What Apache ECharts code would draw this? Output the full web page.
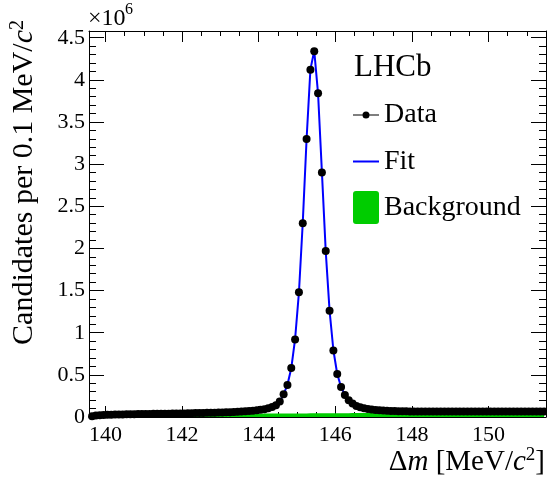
<!DOCTYPE html>
<html>
<head>
<meta charset="utf-8">
<script src="https://cdn.jsdelivr.net/npm/echarts@6/dist/echarts.min.js"></script>
<style>html,body{margin:0;padding:0;background:#fff}#c{width:547px;height:479px}</style>
</head>
<body>
<div id="c"></div>
<script>
// Bin centres of Δm [MeV/c^2] (0.1 MeV bins)
const binCenters = [139.65,139.75,139.85,139.95,
140.05,140.15,140.25,140.35,140.45,140.55,140.65,140.75,140.85,140.95,
141.05,141.15,141.25,141.35,141.45,141.55,141.65,141.75,141.85,141.95,
142.05,142.15,142.25,142.35,142.45,142.55,142.65,142.75,142.85,142.95,
143.05,143.15,143.25,143.35,143.45,143.55,143.65,143.75,143.85,143.95,
144.05,144.15,144.25,144.35,144.45,144.55,144.65,144.75,144.85,144.95,
145.05,145.15,145.25,145.35,145.45,145.55,145.65,145.75,145.85,145.95,
146.05,146.15,146.25,146.35,146.45,146.55,146.65,146.75,146.85,146.95,
147.05,147.15,147.25,147.35,147.45,147.55,147.65,147.75,147.85,147.95,
148.05,148.15,148.25,148.35,148.45,148.55,148.65,148.75,148.85,148.95,
149.05,149.15,149.25,149.35,149.45,149.55,149.65,149.75,149.85,149.95,
150.05,150.15,150.25,150.35,150.45,150.55,150.65,150.75,150.85,150.95,
151.05,151.15,151.25,151.35,151.45];

// Candidates per bin (x10^6)
const dataValues = [0.010,0.017,0.021,0.024,
0.026,0.028,0.029,0.030,0.031,0.032,0.033,0.034,0.035,0.036,
0.036,0.037,0.038,0.038,0.039,0.040,0.040,0.041,0.042,0.042,
0.043,0.044,0.045,0.046,0.047,0.048,0.049,0.050,0.051,0.052,
0.054,0.055,0.057,0.059,0.061,0.064,0.067,0.070,0.074,0.079,
0.085,0.093,0.103,0.118,0.140,0.185,0.270,0.380,0.580,0.920,
1.480,2.300,3.300,4.120,4.340,3.840,2.900,1.970,1.260,0.790,
0.510,0.355,0.262,0.200,0.160,0.132,0.115,0.104,0.095,0.089,
0.084,0.080,0.077,0.074,0.072,0.070,0.069,0.068,0.067,0.066,
0.066,0.065,0.065,0.064,0.065,0.064,0.064,0.065,0.064,0.064,
0.064,0.065,0.064,0.064,0.064,0.065,0.064,0.064,0.065,0.064,
0.064,0.065,0.064,0.065,0.064,0.065,0.065,0.064,0.065,0.065,
0.065,0.065,0.064,0.065,0.065];

// Total fit (x10^6)
const fitValues = [0.010,0.017,0.021,0.024,
0.026,0.028,0.029,0.030,0.031,0.032,0.033,0.034,0.035,0.036,
0.036,0.037,0.038,0.038,0.039,0.040,0.040,0.041,0.042,0.042,
0.043,0.044,0.045,0.046,0.047,0.048,0.049,0.050,0.051,0.052,
0.054,0.055,0.057,0.059,0.061,0.064,0.067,0.070,0.074,0.079,
0.085,0.093,0.104,0.119,0.141,0.186,0.268,0.382,0.578,0.925,
1.475,2.305,3.295,4.125,4.345,3.835,2.905,1.965,1.262,0.792,
0.510,0.356,0.262,0.201,0.160,0.132,0.115,0.104,0.095,0.089,
0.084,0.080,0.077,0.074,0.072,0.070,0.069,0.068,0.067,0.066,
0.066,0.065,0.065,0.065,0.065,0.065,0.065,0.065,0.064,0.064,
0.064,0.064,0.064,0.064,0.064,0.064,0.064,0.064,0.064,0.064,
0.064,0.064,0.064,0.064,0.064,0.065,0.065,0.065,0.065,0.065,
0.065,0.065,0.065,0.065,0.065];

// Background component (x10^6)
const bkgValues = [0.006,0.011,0.014,0.016,
0.018,0.019,0.020,0.021,0.022,0.023,0.024,0.025,0.026,0.027,
0.027,0.028,0.029,0.029,0.030,0.030,0.031,0.031,0.032,0.032,
0.033,0.033,0.034,0.034,0.035,0.035,0.035,0.036,0.036,0.037,
0.037,0.037,0.038,0.038,0.038,0.039,0.039,0.039,0.040,0.040,
0.040,0.041,0.041,0.041,0.041,0.042,0.042,0.042,0.042,0.043,
0.043,0.043,0.043,0.044,0.044,0.044,0.044,0.044,0.045,0.045,
0.045,0.045,0.045,0.045,0.046,0.046,0.046,0.046,0.046,0.046,
0.047,0.047,0.047,0.047,0.047,0.047,0.047,0.047,0.047,0.047,
0.047,0.047,0.047,0.047,0.047,0.047,0.047,0.047,0.047,0.047,
0.048,0.048,0.048,0.048,0.048,0.048,0.048,0.048,0.048,0.048,
0.048,0.048,0.048,0.048,0.048,0.048,0.048,0.048,0.048,0.048,
0.048,0.048,0.048,0.048,0.048];

// Axis ticks
const xMajorTicks = [140,142,144,146,148,150];
const xMinorTicks = [140.5,141,141.5,142.5,143,143.5,144.5,145,145.5,146.5,147,147.5,148.5,149,149.5,150.5,151];
const yMajorTicks = [0,0.5,1,1.5,2,2.5,3,3.5,4,4.5];
const yMinorTicks = [0.1,0.2,0.3,0.4,0.6,0.7,0.8,0.9,1.1,1.2,1.3,1.4,1.6,1.7,1.8,1.9,2.1,2.2,2.3,2.4,2.6,2.7,2.8,2.9,3.1,3.2,3.3,3.4,3.6,3.7,3.8,3.9,4.1,4.2,4.3,4.4];

const X_MIN = 139.57, X_MAX = 151.5, Y_MIN = 0, Y_MAX = 4.58;
const FONT = "'Liberation Serif','Times New Roman',serif";

const zip = (xs, ys) => xs.map((x, i) => [x, ys[i]]);

function xAxisDef(pos, ticks, len, showLabels, showLine) {
  return {
    type: 'value', position: pos, offset: 0, min: X_MIN, max: X_MAX,
    axisLine: { show: showLine, onZero: false, lineStyle: { color: '#000', width: 1 } },
    axisTick: { show: true, inside: true, length: len, customValues: ticks, lineStyle: { color: '#000', width: 1 } },
    axisLabel: showLabels ? { show: true, customValues: ticks, margin: 7, fontSize: 22, fontFamily: FONT, color: '#000' } : { show: false },
    splitLine: { show: false }
  };
}
function yAxisDef(pos, ticks, len, showLabels, showLine) {
  return {
    type: 'value', position: pos, offset: 0, min: Y_MIN, max: Y_MAX,
    axisLine: { show: showLine, onZero: false, lineStyle: { color: '#000', width: 1 } },
    axisTick: { show: true, inside: true, length: len, customValues: ticks, lineStyle: { color: '#000', width: 1 } },
    axisLabel: showLabels ? { show: true, customValues: ticks, margin: 4, fontSize: 22, fontFamily: FONT, color: '#000', formatter: v => String(v) } : { show: false },
    splitLine: { show: false }
  };
}

const dataIcon = 'path://M0,3.5H26V4.5H0Z M16.5,4A3.5,3.5 0 1 1 9.5,4A3.5,3.5 0 1 1 16.5,4Z';
const bkgIcon = 'path://M3,0H23A3,3 0 0 1 26,3V30A3,3 0 0 1 23,33H3A3,3 0 0 1 0,30V3A3,3 0 0 1 3,0Z';
const legendText = { fontSize: 28, fontFamily: FONT, color: '#000' };

const chart = echarts.init(document.getElementById('c'), null, { renderer: 'canvas' });
chart.setOption({
  animation: false,
  backgroundColor: '#fff',
  grid: { left: 89, right: 1, top: 31, bottom: 62, containLabel: false },
  xAxis: [
    xAxisDef('bottom', xMajorTicks, 11, true, true),
    xAxisDef('bottom', xMinorTicks, 5, false, false),
    xAxisDef('top', xMajorTicks, 11, false, true),
    xAxisDef('top', xMinorTicks, 5, false, false)
  ],
  yAxis: [
    yAxisDef('left', yMajorTicks, 15, true, true),
    yAxisDef('left', yMinorTicks, 7, false, false),
    yAxisDef('right', yMajorTicks, 15, false, true),
    yAxisDef('right', yMinorTicks, 7, false, false)
  ],
  legend: [
    { data: [{ name: 'Data', icon: dataIcon, itemStyle: { color: '#000', opacity: 1 } }], left: 353, top: 101, padding: 0, itemWidth: 26, itemHeight: 7, selectedMode: false, textStyle: legendText },
    { data: [{ name: 'Fit', icon: 'rect' }], left: 353, top: 147.5, padding: 0, itemWidth: 26, itemHeight: 2, selectedMode: false, textStyle: legendText },
    { data: [{ name: 'Background', icon: bkgIcon }], left: 353, top: 191, padding: 0, itemWidth: 26, itemHeight: 33, selectedMode: false, textStyle: legendText }
  ],
  series: [
    { name: 'Background', type: 'line', xAxisIndex: 0, yAxisIndex: 0, data: zip(binCenters, bkgValues),
      color: '#00cc00', showSymbol: false, symbol: 'none', lineStyle: { width: 0 }, areaStyle: { color: '#00cc00', opacity: 1 }, z: 1 },
    { name: 'Fit', type: 'line', xAxisIndex: 0, yAxisIndex: 0, data: zip(binCenters, fitValues),
      color: '#0000ff', symbol: 'none', lineStyle: { color: '#0000ff', width: 2 }, z: 2 },
    { name: 'Data', type: 'scatter', xAxisIndex: 0, yAxisIndex: 0, data: zip(binCenters, dataValues),
      color: '#000', symbol: 'circle', symbolSize: 8, itemStyle: { color: '#000', opacity: 1 }, z: 3 }
  ],
  graphic: [
    { type: 'text', x: 354, y: 68, style: { text: 'LHCb', font: "31px 'Liberation Serif','Times New Roman',serif", fill: '#000', verticalAlign: 'middle', align: 'left' } },
    { type: 'text', x: 88, y: 19, style: { text: '×10', font: "24px 'Liberation Serif','Times New Roman',serif", fill: '#000', verticalAlign: 'middle', align: 'left' } },
    { type: 'text', x: 125, y: 10, style: { text: '6', font: "16px 'Liberation Serif','Times New Roman',serif", fill: '#000', verticalAlign: 'middle', align: 'left' } },
    { type: 'text', x: 545, y: 462, style: {
        text: '{n|Δ}{i|m}{n| [MeV/}{i|c}{s|2}{n|]}', align: 'right', verticalAlign: 'middle',
        rich: {
          n: { fontSize: 29, fontFamily: FONT, color: '#000', lineHeight: 32 },
          i: { fontSize: 29, fontFamily: FONT, fontStyle: 'italic', color: '#000', lineHeight: 32 },
          s: { fontSize: 19, fontFamily: FONT, color: '#000', lineHeight: 19, verticalAlign: 'top' }
        } } },
    { type: 'text', x: 24, y: 20, rotation: Math.PI / 2, style: {
        text: '{n|Candidates per 0.1 MeV/}{i|c}{s|2}', align: 'right', verticalAlign: 'middle',
        rich: {
          n: { fontSize: 30, fontFamily: FONT, color: '#000', lineHeight: 33 },
          i: { fontSize: 30, fontFamily: FONT, fontStyle: 'italic', color: '#000', lineHeight: 33 },
          s: { fontSize: 20, fontFamily: FONT, color: '#000', lineHeight: 20, verticalAlign: 'top' }
        } } }
  ]
});
</script>
</body>
</html>
